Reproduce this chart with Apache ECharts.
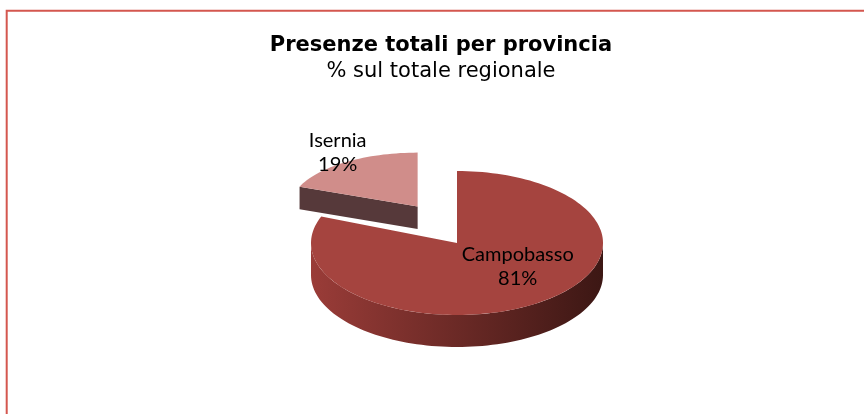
<!DOCTYPE html>
<html>
<head>
<meta charset="utf-8">
<title>Presenze totali per provincia</title>
<script src="https://cdn.jsdelivr.net/npm/echarts@6/dist/echarts.min.js"></script>
<style>
  html, body { margin: 0; padding: 0; background: #fff; }
  #chart { width: 864px; height: 414px; }
</style>
</head>
<body>
<div id="chart"></div>
<script>
  // dati
  var province = ['Campobasso', 'Isernia']
  var quote = [81, 19]

  var colors = {
    top: ['#a5443f', '#d08d8a'],
    wall: [['#9a3c38', '#3c1714'], ['#56393a', '#4a3132']]
  }

  // pseudo-3D (ellipse)
  var geo = {cx: 457, cy: 243, rx: 146, ry: 72, depth: 32}
  var exploded = 1
  var explodeXY = [70, 44]
  var shrink = [0.87, 0.75, 0.7]   // rx, ry, depth of the exploded slice
  var labelAt = [[0.74, 0.39], [1.12, 1.2]]

  var total = quote.reduce(function (a, b) { return a + b }, 0)

  function rad(d) { return d * Math.PI / 180 }
  function pt(g, a, dy) {
    return [g.cx + g.rx * Math.sin(rad(a)), g.cy - g.ry * Math.cos(rad(a)) + (dy || 0)]
  }
  function arc(g, a0, a1, dy) {
    var pts = [], n = Math.max(2, Math.ceil(Math.abs(a1 - a0) / 2))
    for (var i = 0; i <= n; i++) pts.push(pt(g, a0 + (a1 - a0) * i / n, dy))
    return pts
  }

  function renderItem(params, api) {
    var i = params.dataIndex
    var start = 0
    for (var k = 0; k < i; k++) start += quote[k]
    var a0 = start / total * 360
    var a1 = (start + api.value(0)) / total * 360
    var mid = (a0 + a1) / 2
    var g = {cx: geo.cx, cy: geo.cy, rx: geo.rx, ry: geo.ry, depth: geo.depth}
    if (i === exploded) {
      g.cx += Math.sin(rad(mid)) * explodeXY[0]
      g.cy -= Math.cos(rad(mid)) * explodeXY[1]
      g.rx *= shrink[0]; g.ry *= shrink[1]; g.depth *= shrink[2]
    }
    var zb = i === exploded ? 0 : 10
    var kids = []
    var c = [g.cx, g.cy]

    // parete esterna (solo la parte frontale 90..270)
    var f0 = Math.max(a0, 90), f1 = Math.min(a1, 270)
    if (f1 > f0) {
      var top = arc(g, f0, f1, 0)
      var bot = arc(g, f1, f0, g.depth)
      kids.push({
        type: 'polygon', z2: zb + 1,
        shape: {points: top.concat(bot)},
        style: {
          fill: new echarts.graphic.LinearGradient(0, 0, 1, 0, [
            {offset: 0, color: colors.wall[i][0]},
            {offset: 1, color: colors.wall[i][1]}
          ])
        }
      })
    }
    // facce di taglio visibili
    if (Math.sin(rad(a0)) < -0.01) {
      var p = pt(g, a0)
      kids.push({
        type: 'polygon', z2: zb + 1,
        shape: {points: [c, p, [p[0], p[1] + g.depth], [c[0], c[1] + g.depth]]},
        style: {fill: colors.wall[i][0]}
      })
    }
    if (Math.sin(rad(a1)) > 0.01) {
      var q = pt(g, a1)
      kids.push({
        type: 'polygon', z2: zb + 1,
        shape: {points: [c, q, [q[0], q[1] + g.depth], [c[0], c[1] + g.depth]]},
        style: {fill: colors.wall[i][1]}
      })
    }
    // faccia superiore
    kids.push({
      type: 'polygon', z2: zb + 2,
      shape: {points: [c].concat(arc(g, a0, a1, 0))},
      style: {fill: colors.top[i]}
    })
    // etichetta
    kids.push({
      type: 'text', z2: zb + 5,
      style: {
        x: g.cx + Math.sin(rad(mid)) * g.rx * labelAt[i][0],
        y: g.cy - Math.cos(rad(mid)) * g.ry * labelAt[i][1],
        text: province[i] + '\n' + api.value(0) + '%',
        align: 'center', verticalAlign: 'middle',
        font: '20px Lato, "Open Sans", sans-serif',
        lineHeight: 24,
        fill: '#000'
      }
    })
    return {type: 'group', children: kids}
  }

  var chart = echarts.init(document.getElementById('chart'), null, {renderer: 'canvas'})
  chart.setOption({
    animation: false,
    backgroundColor: '#fff',
    title: {
      text: 'Presenze totali per provincia',
      subtext: '% sul totale regionale',
      left: 436,
      textAlign: 'center',
      top: 30,
      itemGap: 5,
      textStyle: {fontFamily: '"DejaVu Sans", Verdana, sans-serif', fontSize: 21, fontWeight: 'bold', color: '#000'},
      subtextStyle: {fontFamily: '"DejaVu Sans", Verdana, sans-serif', fontSize: 21, color: '#000'}
    },
    graphic: [{
      type: 'rect', silent: true,
      shape: {x: 6.7, y: 10.7, width: 900, height: 500},
      style: {fill: null, stroke: '#d4574f', lineWidth: 2}
    }],
    series: [{
      type: 'custom',
      coordinateSystem: 'none',
      renderItem: renderItem,
      data: quote.map(function (v, i) { return {name: province[i], value: [v]} })
    }]
  })
</script>
</body>
</html>
